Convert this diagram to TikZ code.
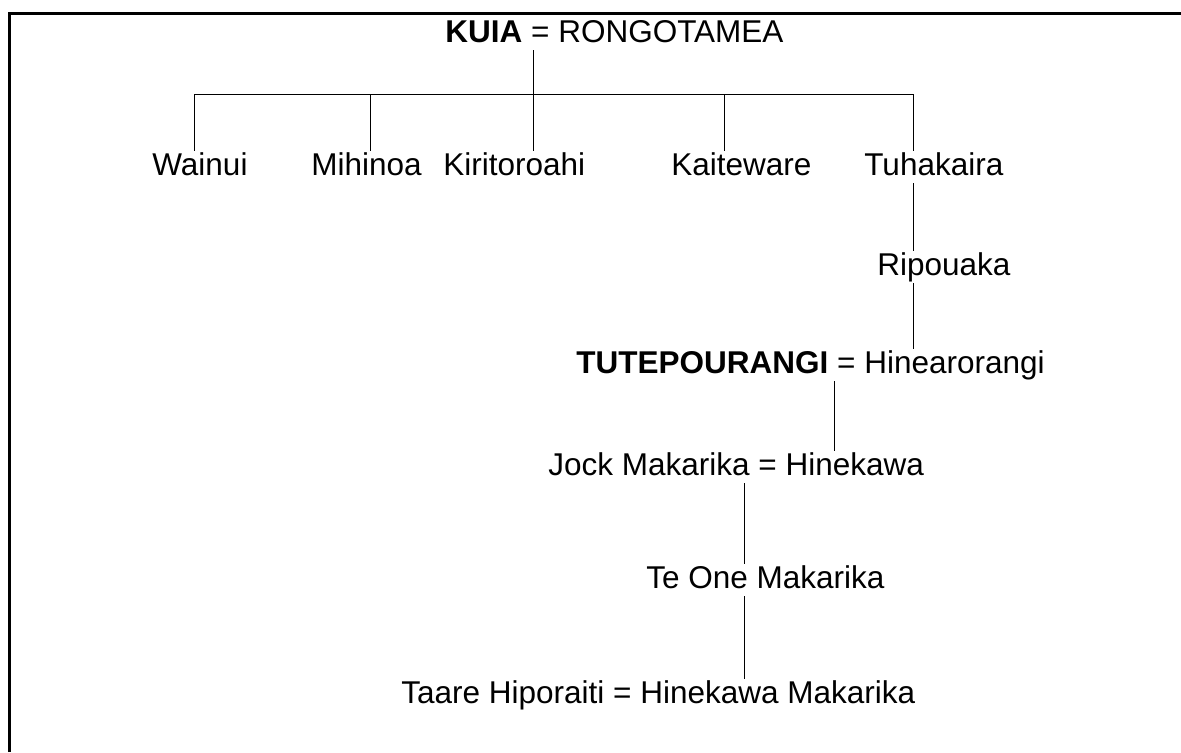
\documentclass[tikz,border=0pt]{standalone}
\usepackage{fontspec}
\setmainfont{Liberation Sans}
\usepackage{tikz}
\tikzstyle{person} = [anchor=base west, inner sep=0.5pt, text height=11.5pt, text depth=3.3pt, font=\fontsize{15.75}{18}\selectfont]
\tikzstyle{kin} = [line width=0.5pt]
\tikzstyle{frame} = [line width=1.5pt]

\begin{document}
\begin{tikzpicture}[x=0.5pt, y=-0.5pt]
\useasboundingbox (0,0) rectangle (1181,752);
\draw[frame] (9,752) -- (9,13) -- (1181,13);

\node[person] (kuia) at (444,42) {\textbf{KUIA} = RONGOTAMEA};
\node[person] (wainui) at (151,175) {Wainui};
\node[person] (mihinoa) at (310,175) {Mihinoa};
\node[person] (kiritoroahi) at (442,175) {Kiritoroahi};
\node[person] (kaiteware) at (670,175) {Kaiteware};
\node[person] (tuhakaira) at (863,175) {Tuhakaira};
\node[person] (ripouaka) at (876,275) {Ripouaka};
\node[person] (tutepourangi) at (575,373) {\textbf{TUTEPOURANGI} = Hinearorangi};
\node[person] (jock) at (547,475) {Jock Makarika = Hinekawa};
\node[person] (teone) at (645,588) {Te One Makarika};
\node[person] (taare) at (400,703) {Taare Hiporaiti = Hinekawa Makarika};

\coordinate (bar) at (0,94);
\coordinate (cWainui) at (194,0);
\coordinate (cMihinoa) at (370,0);
\coordinate (cKiri) at (533,0);
\coordinate (cKaite) at (724,0);
\coordinate (cTuha) at (913,0);
\coordinate (cTute) at (834,0);
\coordinate (cJock) at (744,0);

\draw[kin] (kuia.south -| cKiri) -- (kiritoroahi.north -| cKiri);
\draw[kin] (wainui.north -| cWainui) -- (cWainui |- bar) -- (cTuha |- bar) -- (tuhakaira.north -| cTuha);
\draw[kin] (cMihinoa |- bar) -- (mihinoa.north -| cMihinoa);
\draw[kin] (cKaite |- bar) -- (kaiteware.north -| cKaite);
\draw[kin] (tuhakaira.south -| cTuha) -- (ripouaka.north -| cTuha);
\draw[kin] (ripouaka.south -| cTuha) -- (tutepourangi.north -| cTuha);
\draw[kin] (tutepourangi.south -| cTute) -- (jock.north -| cTute);
\draw[kin] (jock.south -| cJock) -- (teone.north -| cJock);
\draw[kin] (teone.south -| cJock) -- (taare.north -| cJock);
\end{tikzpicture}
\end{document}
